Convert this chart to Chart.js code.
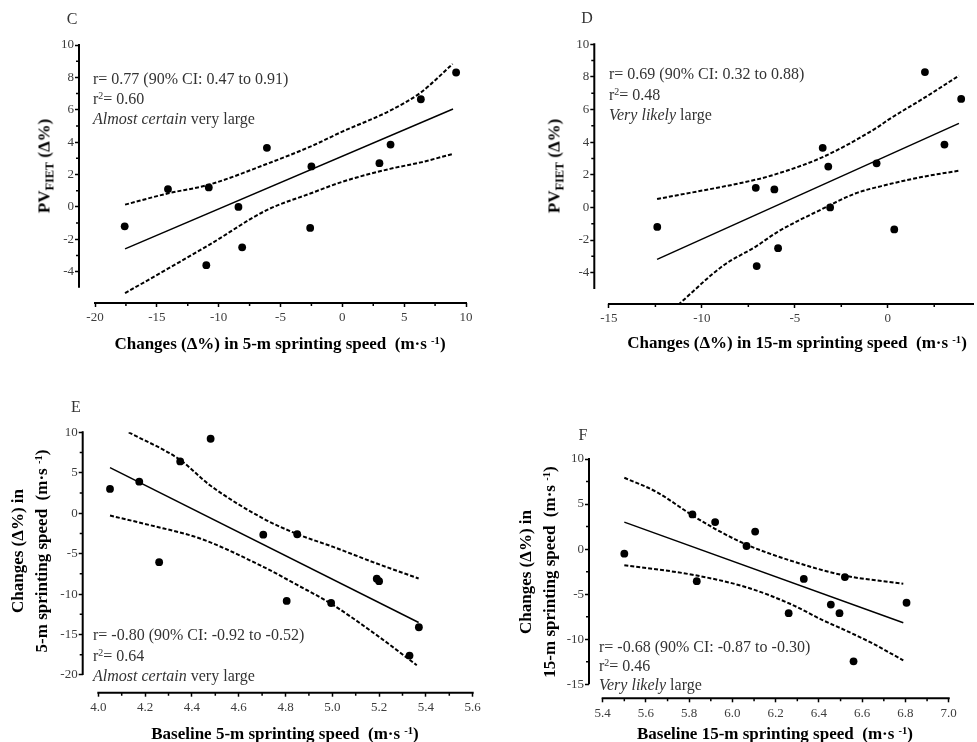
<!DOCTYPE html>
<html>
<head>
<meta charset="utf-8">
<script src="https://cdn.jsdelivr.net/npm/chart.js@4.4.1/dist/chart.umd.min.js"></script>
<style>
html, body { margin: 0; padding: 0; background: #fff; }
body { width: 977px; height: 742px; position: relative; overflow: hidden; font-family: "Liberation Serif", "Times New Roman", serif; }
canvas { position: absolute; }
.t { position: absolute; white-space: nowrap; line-height: 1; }
.letter { font-size: 16px; color: #333; transform: translate(-50%, -50%); }
.note { font-size: 16px; color: #333; transform: translateY(-50%); }
.xt { font-size: 17px; font-weight: bold; color: #000; transform: translate(-50%, -50%); }
.yt { font-size: 17px; font-weight: bold; color: #000; text-align: center; line-height: 24px; transform: translate(-50%, -50%) rotate(-90deg); }
.sup { font-size: 0.62em; position: relative; top: -0.5em; }
.sub { font-size: 0.72em; position: relative; top: 0.3em; }
</style>
</head>
<body>
<canvas id="cC" width="488" height="370" style="left:0;top:0"></canvas>
<canvas id="cD" width="489" height="370" style="left:488px;top:0"></canvas>
<canvas id="cE" width="488" height="372" style="left:0;top:370px"></canvas>
<canvas id="cF" width="489" height="372" style="left:488px;top:370px"></canvas>

<div class="t letter" style="left:72px;top:19px">C</div>
<div class="t letter" style="left:587px;top:18px">D</div>
<div class="t letter" style="left:76px;top:407px">E</div>
<div class="t letter" style="left:583px;top:435px">F</div>

<div class="t note" style="left:93px;top:79px">r= 0.77 (90% CI: 0.47 to 0.91)</div>
<div class="t note" style="left:93px;top:99px">r<span class="sup">2</span>= 0.60</div>
<div class="t note" style="left:93px;top:119px"><i>Almost certain</i> very large</div>

<div class="t note" style="left:609px;top:74px">r= 0.69 (90% CI: 0.32 to 0.88)</div>
<div class="t note" style="left:609px;top:94.5px">r<span class="sup">2</span>= 0.48</div>
<div class="t note" style="left:609px;top:115px"><i>Very likely</i> large</div>

<div class="t note" style="left:93px;top:635px">r= -0.80 (90% CI: -0.92 to -0.52)</div>
<div class="t note" style="left:93px;top:655.5px">r<span class="sup">2</span>= 0.64</div>
<div class="t note" style="left:93px;top:676px"><i>Almost certain</i> very large</div>

<div class="t note" style="left:599px;top:646.5px">r= -0.68 (90% CI: -0.87 to -0.30)</div>
<div class="t note" style="left:599px;top:666px">r<span class="sup">2</span>= 0.46</div>
<div class="t note" style="left:599px;top:685px"><i>Very likely</i> large</div>

<div class="t xt" style="left:280px;top:343px">Changes (Δ%) in 5-m sprinting speed&nbsp; (m·s <span class="sup">-1</span>)</div>
<div class="t xt" style="left:797px;top:342px">Changes (Δ%) in 15-m sprinting speed&nbsp; (m·s <span class="sup">-1</span>)</div>
<div class="t xt" style="left:285px;top:733px">Baseline 5-m sprinting speed&nbsp; (m·s <span class="sup">-1</span>)</div>
<div class="t xt" style="left:775px;top:733px">Baseline 15-m sprinting speed&nbsp; (m·s <span class="sup">-1</span>)</div>

<div class="t yt" style="left:45px;top:166px">PV<span class="sub">FIET</span> (Δ%)</div>
<div class="t yt" style="left:555px;top:166px">PV<span class="sub">FIET</span> (Δ%)</div>
<div class="t yt" style="left:31px;top:551px">Changes (Δ%) in<br>5-m sprinting speed&nbsp; (m·s <span class="sup">-1</span>)</div>
<div class="t yt" style="left:539px;top:572px">Changes (Δ%) in<br>15-m sprinting speed&nbsp; (m·s <span class="sup">-1</span>)</div>

<script>
// ---- panel C: PV_FIET change vs change in 5-m speed
const cX = [-17.6, -14.1, -10.8, -11.0, -8.4, -8.1, -6.1, -2.5, -2.6, 3.0, 3.9, 6.35, 9.2];
const cY = [-1.2, 1.1, 1.2, -3.6, 0.0, -2.5, 3.65, 2.5, -1.3, 2.7, 3.85, 6.65, 8.3];
const cFitX = [-17.57, 8.95];
const cFitY = [-2.59, 6.05];
const cUpX = [-17.57, -14.07, -10.84, -6.12, -2.54, 0, 3.85, 6.35, 8.92];
const cUpY = [0.14, 0.84, 1.36, 2.65, 3.74, 4.65, 5.94, 7.07, 8.83];
const cLoX = [-17.57, -14.07, -10.84, -6.12, -2.54, 0, 3.85, 6.35, 8.92];
const cLoY = [-5.33, -3.8, -2.38, -0.2, 0.84, 1.55, 2.35, 2.75, 3.27];
const cXTicks = [-20, -15, -10, -5, 0, 5, 10];
const cXLabels = ['-20', '-15', '-10', '-5', '0', '5', '10'];
const cXMinor = [-17.5, -12.5, -7.5, -2.5, 2.5, 7.5];
const cYTicks = [10, 8, 6, 4, 2, 0, -2, -4];
const cYLabels = ['10', '8', '6', '4', '2', '0', '-2', '-4'];
const cYMinor = [9, 7, 5, 3, 1, -1, -3];

// ---- panel D: PV_FIET change vs change in 15-m speed
const dX = [-12.4, -7.1, -7.05, -6.1, -5.9, -3.5, -3.2, -3.1, -0.6, 0.35, 2.0, 3.05, 3.95];
const dY = [-1.2, 1.2, -3.6, 1.1, -2.5, 3.65, 2.5, 0.0, 2.7, -1.35, 8.3, 3.85, 6.65];
const dFitX = [-12.41, 3.83];
const dFitY = [-3.19, 5.15];
const dUpX = [-12.41, -7.1, -6.12, -3.53, -0.57, 0, 2.0, 3.83];
const dUpY = [0.51, 1.7, 2.0, 3.07, 4.9, 5.35, 6.74, 8.08];
const dLoX = [-11.27, -8.89, -7.1, -5.92, -3.53, -1.75, 0, 2.0, 3.83];
const dLoY = [-5.97, -3.6, -2.4, -1.5, -0.1, 0.85, 1.4, 1.9, 2.25];
const dXTicks = [-15, -10, -5, 0];
const dXLabels = ['-15', '-10', '-5', '0'];
const dXMinor = [-12.5, -7.5, -2.5, 2.5];
const dYTicks = [10, 8, 6, 4, 2, 0, -2, -4];
const dYLabels = ['10', '8', '6', '4', '2', '0', '-2', '-4'];
const dYMinor = [9, 7, 5, 3, 1, -1, -3];

// ---- panel E: change in 5-m speed vs baseline 5-m speed
const eX = [4.05, 4.175, 4.26, 4.35, 4.48, 4.705, 4.85, 4.805, 4.995, 5.19, 5.2, 5.33, 5.37];
const eY = [3.0, 3.9, -6.05, 6.4, 9.2, -2.65, -2.6, -10.85, -11.1, -8.1, -8.4, -17.6, -14.1];
const eFitX = [4.05, 5.369];
const eFitY = [5.64, -13.51];
const eUpX = [4.13, 4.349, 4.477, 4.705, 4.852, 5.004, 5.19, 5.369];
const eUpY = [10.0, 6.6, 3.46, -0.66, -2.6, -4.17, -6.22, -8.07];
const eLoX = [4.05, 4.221, 4.435, 4.705, 4.852, 4.993, 5.19, 5.361];
const eLoY = [-0.29, -1.48, -3.13, -6.63, -8.9, -11.16, -15.08, -18.79];
const eXTicks = [4.0, 4.2, 4.4, 4.6, 4.8, 5.0, 5.2, 5.4, 5.6];
const eXLabels = ['4.0', '4.2', '4.4', '4.6', '4.8', '5.0', '5.2', '5.4', '5.6'];
const eXMinor = [4.1, 4.3, 4.5, 4.7, 4.9, 5.1, 5.3, 5.5];
const eYTicks = [10, 5, 0, -5, -10, -15, -20];
const eYLabels = ['10', '5', '0', '-5', '-10', '-15', '-20'];
const eYMinor = [7.5, 2.5, -2.5, -7.5, -12.5, -17.5];

// ---- panel F: change in 15-m speed vs baseline 15-m speed
const fX = [5.5, 5.815, 5.835, 5.92, 6.065, 6.105, 6.26, 6.33, 6.455, 6.495, 6.52, 6.56, 6.805];
const fY = [-0.5, 3.85, -3.55, 3.0, 0.35, 1.95, -7.1, -3.3, -6.15, -7.1, -3.1, -12.45, -5.95];
const fFitX = [5.5, 6.79];
const fFitY = [3.0, -8.17];
const fUpX = [5.5, 5.65, 5.815, 5.919, 6.063, 6.266, 6.517, 6.79];
const fUpY = [7.92, 6.33, 3.74, 2.26, 0.52, -1.25, -2.92, -3.84];
const fLoX = [5.5, 5.815, 6.063, 6.266, 6.42, 6.517, 6.651, 6.79];
const fLoY = [-1.78, -2.84, -4.22, -6.06, -7.91, -8.95, -10.5, -12.35];
const fXTicks = [5.4, 5.6, 5.8, 6.0, 6.2, 6.4, 6.6, 6.8, 7.0];
const fXLabels = ['5.4', '5.6', '5.8', '6.0', '6.2', '6.4', '6.6', '6.8', '7.0'];
const fXMinor = [5.5, 5.7, 5.9, 6.1, 6.3, 6.5, 6.7, 6.9];
const fYTicks = [10, 5, 0, -5, -10, -15];
const fYLabels = ['10', '5', '0', '-5', '-10', '-15'];
const fYMinor = [7.5, 2.5, -2.5, -7.5, -12.5];

const pts = (xs, ys) => xs.map((x, i) => ({x: x, y: ys[i]}));

// prism style axes: offset x axis, y axis stopping at its last value, minor ticks
const offsetAxes = {
  id: 'offsetAxes',
  afterDraw(chart, args, o) {
    const ctx = chart.ctx, a = chart.chartArea, x = chart.scales.x, y = chart.scales.y;
    ctx.save();
    ctx.strokeStyle = '#000';
    ctx.lineWidth = 2;
    ctx.beginPath();
    ctx.moveTo(a.left, y.getPixelForValue(o.yTop) - 1);
    ctx.lineTo(a.left, y.getPixelForValue(o.yBottom));
    ctx.moveTo(x.getPixelForValue(o.xStart) - 1, a.bottom);
    ctx.lineTo(x.getPixelForValue(o.xEnd) + 1, a.bottom);
    ctx.stroke();
    ctx.lineWidth = 1.5;
    ctx.beginPath();
    o.yMinor.forEach(v => { const p = y.getPixelForValue(v); ctx.moveTo(a.left - 3, p); ctx.lineTo(a.left, p); });
    o.xMinor.forEach(v => { const p = x.getPixelForValue(v); ctx.moveTo(p, a.bottom); ctx.lineTo(p, a.bottom + 3); });
    ctx.stroke();
    ctx.restore();
  }
};

function panel(id, box, area, lim, d) {
  const tickFont = {family: 'Liberation Serif', size: 13};
  new Chart(document.getElementById(id), {
    type: 'scatter',
    data: {
      datasets: [
        {data: pts(d.x, d.y), backgroundColor: '#000', borderWidth: 0, pointRadius: 3.9, order: 0},
        {data: pts(d.fitX, d.fitY), showLine: true, borderColor: '#000', borderWidth: 1.5, pointRadius: 0, order: 1},
        {data: pts(d.upX, d.upY), showLine: true, borderColor: '#000', borderWidth: 2, borderDash: [4, 2], pointRadius: 0, cubicInterpolationMode: 'monotone', order: 2},
        {data: pts(d.loX, d.loY), showLine: true, borderColor: '#000', borderWidth: 2, borderDash: [4, 2], pointRadius: 0, cubicInterpolationMode: 'monotone', order: 3}
      ]
    },
    options: {
      responsive: false,
      animation: false,
      devicePixelRatio: 1,
      events: [],
      layout: {padding: {left: 0, bottom: 0, top: area.T - box.y, right: box.x + box.w - area.R}},
      plugins: {
        legend: {display: false},
        tooltip: {enabled: false},
        offsetAxes: {yTop: lim.yMax, yBottom: d.yEnd, xStart: d.xTicks[0], xEnd: d.xEnd, xMinor: d.xMinor, yMinor: d.yMinor}
      },
      scales: {
        x: {
          type: 'linear', min: lim.xMin, max: lim.xMax,
          afterBuildTicks: s => { s.ticks = d.xTicks.map(v => ({value: v})); },
          afterFit: s => { s.height = box.y + box.h - area.B; },
          border: {display: false},
          grid: {drawOnChartArea: false, drawTicks: true, tickLength: 4, tickColor: '#000', tickWidth: 1.5},
          ticks: {font: tickFont, color: '#3c3c3c', padding: 3, autoSkip: false, maxRotation: 0, callback: (v, i) => d.xLabels[i]}
        },
        y: {
          type: 'linear', min: lim.yMin, max: lim.yMax,
          afterBuildTicks: s => { s.ticks = d.yTicks.map(v => ({value: v})); },
          afterFit: s => { s.width = area.L - box.x; },
          border: {display: false},
          grid: {drawOnChartArea: false, drawTicks: true, tickLength: 4, tickColor: '#000', tickWidth: 1.5},
          ticks: {font: tickFont, color: '#3c3c3c', padding: 1, autoSkip: false, callback: (v, i) => d.yLabels[i]}
        }
      }
    },
    plugins: [offsetAxes]
  });
}

panel('cC', {x: 0, y: 0, w: 488, h: 370}, {L: 79, T: 45, R: 466, B: 303},
  {xMin: -21.294, xMax: 10, yMin: -5.936, yMax: 10},
  {x: cX, y: cY, fitX: cFitX, fitY: cFitY, upX: cUpX, upY: cUpY, loX: cLoX, loY: cLoY,
   xTicks: cXTicks, xLabels: cXLabels, xMinor: cXMinor, yTicks: cYTicks, yLabels: cYLabels, yMinor: cYMinor, xEnd: 10, yEnd: -5});

panel('cD', {x: 488, y: 0, w: 489, h: 370}, {L: 594.3, T: 44.3, R: 975, B: 304},
  {xMin: -15.787, xMax: 4.586, yMin: -5.923, yMax: 10},
  {x: dX, y: dY, fitX: dFitX, fitY: dFitY, upX: dUpX, upY: dUpY, loX: dLoX, loY: dLoY,
   xTicks: dXTicks, xLabels: dXLabels, xMinor: dXMinor, yTicks: dYTicks, yLabels: dYLabels, yMinor: dYMinor, xEnd: 4.586, yEnd: -5});

panel('cE', {x: 0, y: 370, w: 488, h: 372}, {L: 82.7, T: 432.3, R: 472.7, B: 692.7},
  {xMin: 3.9333, xMax: 5.6, yMin: -22.19, yMax: 10},
  {x: eX, y: eY, fitX: eFitX, fitY: eFitY, upX: eUpX, upY: eUpY, loX: eLoX, loY: eLoY,
   xTicks: eXTicks, xLabels: eXLabels, xMinor: eXMinor, yTicks: eYTicks, yLabels: eYLabels, yMinor: eYMinor, xEnd: 5.6, yEnd: -20});

panel('cF', {x: 488, y: 370, w: 489, h: 372}, {L: 589, T: 459, R: 948.7, B: 698.3},
  {xMin: 5.3367, xMax: 7.0, yMin: -16.55, yMax: 10},
  {x: fX, y: fY, fitX: fFitX, fitY: fFitY, upX: fUpX, upY: fUpY, loX: fLoX, loY: fLoY,
   xTicks: fXTicks, xLabels: fXLabels, xMinor: fXMinor, yTicks: fYTicks, yLabels: fYLabels, yMinor: fYMinor, xEnd: 7.0, yEnd: -15});
</script>
</body>
</html>
